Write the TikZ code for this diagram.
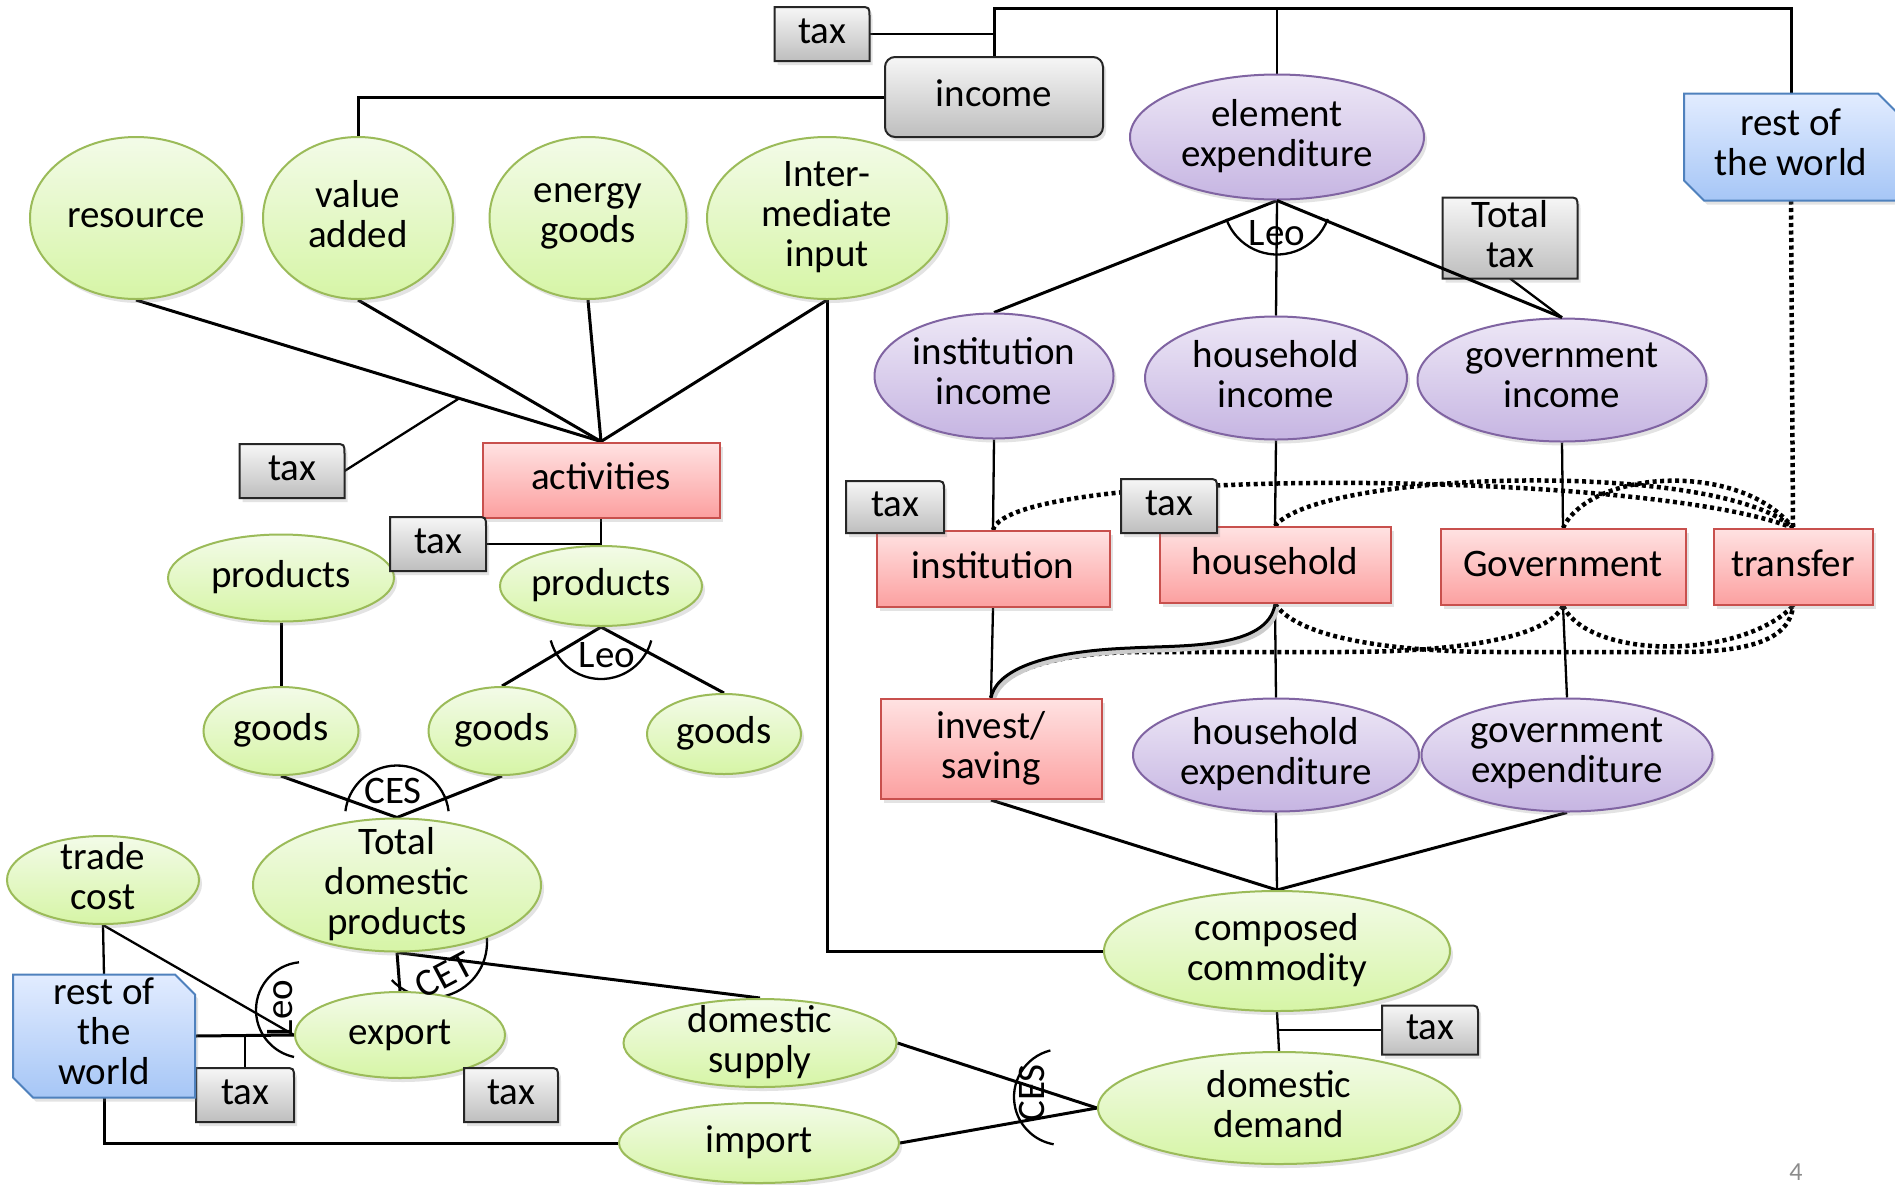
\documentclass[tikz,border=0pt]{standalone}
\usepackage{fontspec}
\setmainfont{Carlito}
\usetikzlibrary{shapes.geometric,shadows,calc}
\pgfdeclarelayer{bg}
\pgfdeclarelayer{fshape}
\pgfdeclarelayer{ftext}
\pgfsetlayers{bg,main,fshape,ftext}
\definecolor{gtop}{RGB}{243,251,232}
\definecolor{gbot}{RGB}{214,245,166}
\definecolor{gborder}{RGB}{155,187,89}
\definecolor{ptop}{RGB}{237,231,246}
\definecolor{pbot}{RGB}{198,181,226}
\definecolor{pborder}{RGB}{128,100,162}
\definecolor{rtop}{RGB}{255,226,226}
\definecolor{rbot}{RGB}{252,160,160}
\definecolor{rborder}{RGB}{200,80,77}
\definecolor{ktop}{RGB}{246,246,246}
\definecolor{kbot}{RGB}{190,190,190}
\definecolor{btop}{RGB}{226,236,255}
\definecolor{bbot}{RGB}{166,198,246}
\definecolor{bborder}{RGB}{79,129,189}
\newcommand{\linestrut}{\rule[-9pt]{0pt}{36pt}}
\begin{document}
\begin{tikzpicture}[x=1pt,y=1pt,
  base/.style={font=\fontsize{39}{40}\selectfont, align=center, inner sep=0pt,
     execute at begin node={\linestrut}, execute at end node={\linestrut}},
  shdw/.style={drop shadow={shadow xshift=3pt,shadow yshift=-4pt,opacity=0.22}},
  gell/.style={base, ellipse, draw=gborder, line width=2pt, top color=gtop, bottom color=gbot, shdw, inner sep=-20pt},
  pell/.style={base, ellipse, draw=pborder, line width=2pt, top color=ptop, bottom color=pbot, shdw, inner sep=-20pt},
  rbox/.style={base, rectangle, draw=rborder, line width=2pt, top color=rtop, bottom color=rbot, shdw},
  tbox/.style={base, rectangle, outer sep=0pt},
  taxshape/.style={draw=black!85, line width=2pt, top color=ktop, bottom color=kbot, shdw},
  snipshape/.style={draw=bborder, line width=2pt, top color=btop, bottom color=bbot, shdw},
  conn/.style={line width=3pt},
  thin/.style={line width=2.3pt},
  dotl/.style={line width=4.5pt, dash pattern=on 4pt off 3.5pt},
  lbl/.style={font=\fontsize{39}{40}\selectfont, inner sep=0pt},
]
\useasboundingbox (0,0) rectangle (1895,-1184);
\begin{pgfonlayer}{bg}
\fill[white] (0,0) rectangle (1895,-1184);
\end{pgfonlayer}

% ---------- main nodes ----------
\node[base, rectangle, rounded corners=10pt, draw=black!85, line width=2pt, top color=ktop, bottom color=kbot, shdw,
      minimum width=218, minimum height=80] (income) at (994,-97) {income};
\node[pell, minimum width=294, minimum height=125] (elem) at (1277,-137) {element\\expenditure};
\node[gell, minimum width=212, minimum height=162] (resource) at (136,-218) {resource};
\node[gell, minimum width=190, minimum height=162] (value) at (358,-218) {value\\added};
\node[gell, minimum width=197, minimum height=162] (energy) at (588,-218) {energy\\goods};
\node[gell, minimum width=240, minimum height=162] (inter) at (827,-218) {Inter-\\mediate\\input};

\node[pell, minimum width=239, minimum height=125] (instinc) at (994,-376) {institution\\income};
\node[pell, minimum width=262, minimum height=123] (hhinc) at (1276,-378) {household\\income};
\node[pell, minimum width=289, minimum height=123] (govinc) at (1562,-380) {government\\income};

\node[rbox, minimum width=233, minimum height=76] (inst) at (993,-569) {institution};
\node[rbox, minimum width=231, minimum height=76] (hh) at (1275,-565) {household};
\node[rbox, minimum width=245, minimum height=76] (gov) at (1563,-567) {Government};
\node[rbox, minimum width=159, minimum height=76] (transfer) at (1793,-567) {transfer};

\node[rbox, minimum width=237, minimum height=75] (act) at (601,-480) {activities};
\node[gell, minimum width=226, minimum height=87] (prodL) at (281,-578) {products};
\node[gell, minimum width=202, minimum height=80] (prodR) at (601,-586) {products};
\node[gell, minimum width=155, minimum height=88] (goods1) at (281,-731) {goods};
\node[gell, minimum width=147, minimum height=88] (goods2) at (502,-731) {goods};
\node[gell, minimum width=154, minimum height=80] (goods3) at (724,-734) {goods};

\node[rbox, minimum width=221, minimum height=100] (invest) at (991,-749) {invest/\\saving};
\node[pell, minimum width=286, minimum height=113] (hhexp) at (1276,-755) {household\\expenditure};
\node[pell, minimum width=291, minimum height=113] (govexp) at (1567,-755) {government\\expenditure};

\node[gell, minimum width=192, minimum height=88] (trade) at (103,-880) {trade\\cost};
\node[gell, minimum width=288, minimum height=133] (tdp) at (397,-885) {Total\\domestic\\products};
\node[gell, minimum width=346, minimum height=120] (composed) at (1277,-951) {composed\\commodity};
\node[gell, minimum width=210, minimum height=86] (export) at (400,-1035) {export};
\node[gell, minimum width=273, minimum height=88] (dsup) at (760,-1043) {domestic\\supply};
\node[gell, minimum width=362, minimum height=112] (ddem) at (1279,-1108) {domestic\\demand};
\node[gell, minimum width=280, minimum height=80] (import) at (759,-1143) {import};

% ---------- front text nodes (tax boxes, rest of the world) ----------
\begin{pgfonlayer}{ftext}
\node[tbox, minimum width=95, minimum height=54] (taxA) at (822,-34) {tax};
\node[tbox, minimum width=214, minimum height=107] (rowA) at (1791,-147) {rest of\\the world};
\node[tbox, minimum width=135, minimum height=81] (ttax) at (1510,-238) {Total\\tax};
\node[tbox, minimum width=98, minimum height=52] (taxI) at (895,-507) {tax};
\node[tbox, minimum width=96, minimum height=54] (taxH) at (1169,-506) {tax};
\node[tbox, minimum width=105, minimum height=54] (taxL) at (292,-471) {tax};
\node[tbox, minimum width=96, minimum height=54] (taxM) at (438,-544) {tax};
\node[tbox, minimum width=182, minimum height=123] (rowB) at (104,-1036) {rest of\\the\\world};
\node[tbox, minimum width=96, minimum height=49] (taxC) at (1430,-1030) {tax};
\node[tbox, minimum width=98, minimum height=54] (taxB1) at (245,-1095) {tax};
\node[tbox, minimum width=94, minimum height=54] (taxB2) at (511,-1095) {tax};
\draw[conn] (elem.south) -- (govinc.north);
\end{pgfonlayer}

\begin{pgfonlayer}{fshape}
\foreach \n in {taxA,ttax,taxI,taxH,taxL,taxM,taxC,taxB1,taxB2}{
  \path[taxshape] (\n.south west) -- (\n.north west) -- ([xshift=-10pt]\n.north east)
     .. controls (\n.north east) .. ([yshift=-10pt]\n.north east) -- (\n.south east) -- cycle;
}
\foreach \n in {rowA,rowB}{
  \path[snipshape] (\n.north west) -- ([xshift=-20pt]\n.north east) -- ([yshift=-20pt]\n.north east)
     -- (\n.south east) -- ([xshift=20pt]\n.south west) -- ([yshift=20pt]\n.south west) -- cycle;
}
\end{pgfonlayer}

% ---------- labels ----------
\node[lbl] (leo1) at (1277,-233) {Leo};
\node[lbl] (leo2) at (607,-655) {Leo};
\node[lbl] (ces1) at (393,-791) {CES};
\node[lbl, rotate=28] (cet) at (444,-975) {CET};
\node[lbl, rotate=90] (leo3) at (280,-1008) {Leo};
\node[lbl, rotate=90] (ces2) at (1032,-1093) {CES};
\node[font=\fontsize{26}{26}\selectfont, text=black!45, inner sep=0pt] (pnum) at (1796,-1172) {4};

% ---------- connectors ----------
\begin{pgfonlayer}{bg}
\coordinate (ty) at (0,-8);
\draw[thin] (taxA.east) -- (taxA.east -| income.north);
\draw[conn] (income.north) -- (income.north |- ty) -- (rowA.north |- ty) -- (rowA.north);
\draw[thin] (elem.north) -- (elem.north |- ty);
\draw[conn] (income.west) -| (value.north);

\draw[conn] (resource.south) -- (act.north);
\draw[conn] (value.south) -- (act.north);
\draw[conn] (energy.south) -- (act.north);
\draw[conn] (inter.south) -- (act.north);
\coordinate (taxjoin) at ($(resource.south)!0.695!(act.north)$);
\draw[thin] (taxL.east) -- (taxjoin);
\draw[conn] (inter.south) |- (composed.west);

\draw[thin] (act.south) -- (prodR.north);
\draw[thin] (taxM.east) -- (taxM.east -| act.south);
\draw[conn] (prodL.south) -- (goods1.north);
\draw[conn] (prodR.south) -- (goods2.north);
\draw[conn] (prodR.south) -- (goods3.north);
\draw[thin] ([shift={(195:52)}]prodR.south) arc[start angle=195,end angle=345,radius=52];

\draw[conn] (goods1.south) -- (tdp.north);
\draw[conn] (goods2.south) -- (tdp.north);
\draw[thin] ([shift={(7:52)}]tdp.north) arc[start angle=7,end angle=173,radius=52];

\draw[conn] (tdp.south) -- (export.north);
\draw[conn] (tdp.south) -- (dsup.north);
\coordinate (cetc) at ($(tdp.south)+(35,10)$);
\draw[thin] ([shift={(223:55)}]cetc) arc[start angle=223,end angle=370,radius=55];

\draw[thin] (trade.south) -- (rowB.north);
\draw[thin] (trade.south) -- (export.west);
\draw[conn] (rowB.east) -- (export.west);
\draw[thin] (taxB1.north) -- (taxB1.north |- rowB.east);
\coordinate (leoc) at ($(export.west)+(10,25)$);
\draw[thin] ([shift={(96:48)}]leoc) arc[start angle=96,end angle=258,radius=48];
\draw[conn] (rowB.south) |- (import.west);

\draw[conn] (dsup.east) -- (ddem.west);
\draw[conn] (import.east) -- (ddem.west);
\coordinate (cesc) at ($(ddem.west)+(-35,11)$);
\draw[thin] ([shift={(104:48)}]cesc) arc[start angle=104,end angle=260,radius=48];
\draw[thin] (composed.south) -- (ddem.north);
\draw[thin] (taxC.west) -- (taxC.west -| composed.south);
\draw[conn] (invest.south) -- (composed.north);
\draw[thin] (hhexp.south) -- (composed.north);
\draw[conn] (govexp.south) -- (composed.north);

\draw[conn] (elem.south) -- (instinc.north);
\draw[thin] (elem.south) -- (hhinc.north);
\draw[thin] ([shift={(200:54)}]elem.south) arc[start angle=200,end angle=340,radius=54];
\draw[thin] (ttax.south) -- (govinc.north);

\draw[thin] (instinc.south) -- (inst.north);
\draw[thin] (hhinc.south) -- (hh.north);
\draw[thin] (govinc.south) -- (gov.north);
\draw[thin] (inst.south) -- (invest.north);
\draw[thin] (hh.south) -- (hhexp.north);
\draw[thin] (gov.south) -- (govexp.north);
\draw[dotl] (rowA.south) -- (transfer.north);

\draw[dotl] (inst.north) .. controls (1010,-465) and (1650,-470) .. (transfer.north);
\draw[dotl] (hh.north) .. controls (1320,-470) and (1720,-460) .. (transfer.north);
\draw[dotl] (gov.north) .. controls (1590,-470) and (1740,-460) .. (transfer.north);

\draw[dotl] (gov.south) .. controls (1545,-640) and (1450,-652) .. (1340,-652) -- (1130,-652)
   .. controls (1040,-655) and (1000,-675) .. (invest.north);
\draw[dotl] (hh.south) .. controls (1300,-640) and (1400,-652) .. (1500,-652) -- (1680,-652)
   .. controls (1760,-652) and (1790,-635) .. (transfer.south);
\draw[dotl] (gov.south) .. controls (1590,-660) and (1740,-660) .. (transfer.south);
\draw[black!20, line width=5pt, transform canvas={shift={(2pt,-3pt)}}] (hh.south) .. controls (1268,-650) and (1180,-645) .. (1130,-648)
   .. controls (1030,-652) and (995,-675) .. (invest.north);
\draw[conn] (hh.south) .. controls (1268,-650) and (1180,-645) .. (1130,-648)
   .. controls (1030,-652) and (995,-675) .. (invest.north);
\end{pgfonlayer}
\end{tikzpicture}
\end{document}
